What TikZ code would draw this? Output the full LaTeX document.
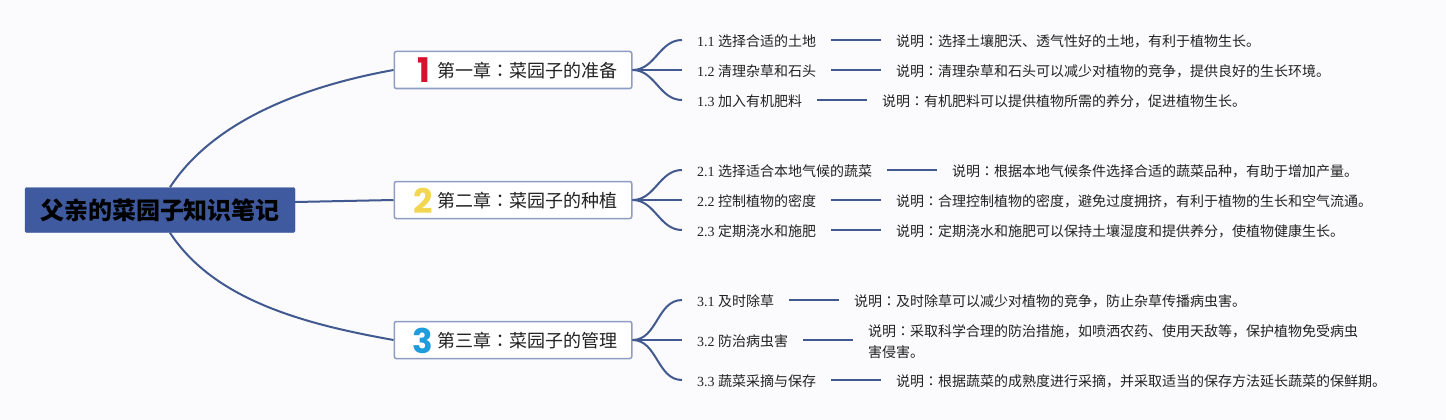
\documentclass[tikz,border=0pt]{standalone}
\usepackage{fontspec}
\setmainfont{Liberation Serif}
\newfontfamily\cjk{Noto Sans CJK SC}
\newfontfamily\cjkcolon{Noto Sans CJK JP}
\newfontfamily\digitfont{Poppins}
\newcommand{\cn}{{\cjkcolon ：}}
\usetikzlibrary{positioning}

\definecolor{pagebg}{HTML}{FBFBFD}
\definecolor{branch}{HTML}{41598F}
\definecolor{rootblue}{HTML}{3F5A9E}
\definecolor{boxline}{HTML}{8F9CC4}
\definecolor{inktext}{HTML}{222222}
\definecolor{onered}{HTML}{D5132F}
\definecolor{twoyellow}{HTML}{F3D650}
\definecolor{threeblue}{HTML}{1F9CDC}

\tikzset{
  rootbox/.style={draw=rootblue, fill=rootblue, rounded corners=1.5pt, minimum width=270pt, minimum height=45pt, inner sep=0pt, font=\cjk\bfseries\fontsize{24pt}{28pt}\selectfont, text=black},
  chapter/.style={draw=boxline, line width=1.5pt, fill=white, rounded corners=2pt, minimum height=37pt, text width=209.5pt, inner xsep=14pt, inner ysep=0pt, align=right, text height=18pt, text depth=2.4pt, font=\cjk\fontsize{18pt}{22pt}\selectfont, text=inktext},
  leaf/.style={anchor=west, inner xsep=15pt, inner ysep=0pt, text height=15pt, text depth=2.4pt, font=\fontsize{14pt}{20pt}\selectfont, text=inktext},
  note/.style={leaf, align=left, font=\cjk\fontsize{14pt}{21pt}\selectfont},
  digit/.style={inner sep=0pt, font=\digitfont\bfseries\fontsize{34pt}{34pt}\selectfont},
  link/.style={draw=branch, line width=2pt}
}

\begin{document}
\begin{tikzpicture}[x=1pt,y=-1pt]
\useasboundingbox (0,0) rectangle (1446,420);
\fill[pagebg] (0,0) rectangle (1446,420);

\node[rootbox] (root) at (160,210) {父亲的菜园子知识笔记};

\node[chapter] (c1) at (513,70) {第一章\cn 菜园子的准备};
\node[chapter] (c2) at (513,200) {第二章\cn 菜园子的种植};
\node[chapter] (c3) at (513,340) {第三章\cn 菜园子的管理};

\node[digit, text=onered] (n1) at (424,70) {1};
\node[digit, text=twoyellow] (n2) at (423,201) {2};
\node[digit, text=threeblue] (n3) at (423,341) {3};

\node[leaf] (l11) at (682,40) {1.1 {\cjk 选择合适的土地}};
\node[leaf] (l12) at (682,70) {1.2 {\cjk 清理杂草和石头}};
\node[leaf] (l13) at (682,100) {1.3 {\cjk 加入有机肥料}};
\node[leaf] (l21) at (682,170) {2.1 {\cjk 选择适合本地气候的蔬菜}};
\node[leaf] (l22) at (682,200) {2.2 {\cjk 控制植物的密度}};
\node[leaf] (l23) at (682,230) {2.3 {\cjk 定期浇水和施肥}};
\node[leaf] (l31) at (682,300) {3.1 {\cjk 及时除草}};
\node[leaf] (l32) at (682,340) {3.2 {\cjk 防治病虫害}};
\node[leaf] (l33) at (682,380) {3.3 {\cjk 蔬菜采摘与保存}};

\node[note] (d11) at (881,40) {说明\cn 选择土壤肥沃、透气性好的土地，有利于植物生长。};
\node[note] (d12) at (881,70) {说明\cn 清理杂草和石头可以减少对植物的竞争，提供良好的生长环境。};
\node[note] (d13) at (867,100) {说明\cn 有机肥料可以提供植物所需的养分，促进植物生长。};
\node[note] (d21) at (937,170) {说明\cn 根据本地气候条件选择合适的蔬菜品种，有助于增加产量。};
\node[note] (d22) at (881,200) {说明\cn 合理控制植物的密度，避免过度拥挤，有利于植物的生长和空气流通。};
\node[note] (d23) at (881,230) {说明\cn 定期浇水和施肥可以保持土壤湿度和提供养分，使植物健康生长。};
\node[note] (d31) at (839,300) {说明\cn 及时除草可以减少对植物的竞争，防止杂草传播病虫害。};
\node[note, text height=37pt] (d32) at (853,340) {说明\cn 采取科学合理的防治措施，如喷洒农药、使用天敌等，保护植物免受病虫\\害侵害。};
\node[note] (d33) at (881,380) {说明\cn 根据蔬菜的成熟度进行采摘，并采取适当的保存方法延长蔬菜的保鲜期。};

\draw[link] ([xshift=10pt]root.north) .. controls (215,118) and (310,85) .. (c1.west);
\draw[link] ([yshift=8pt]root.east) -- (c2.west);
\draw[link] ([xshift=10pt]root.south) .. controls (215,302) and (310,325) .. (c3.west);

\draw[link] (c1.east) to[out=0,in=180] (l11.west);
\draw[link] (c1.east) -- (l12.west);
\draw[link] (c1.east) to[out=0,in=180] (l13.west);
\draw[link] (c2.east) to[out=0,in=180] (l21.west);
\draw[link] (c2.east) -- (l22.west);
\draw[link] (c2.east) to[out=0,in=180] (l23.west);
\draw[link] (c3.east) to[out=0,in=180] (l31.west);
\draw[link] (c3.east) -- (l32.west);
\draw[link] (c3.east) to[out=0,in=180] (l33.west);

\draw[link] (l11.east) -- (d11.west);
\draw[link] (l12.east) -- (d12.west);
\draw[link] (l13.east) -- (d13.west);
\draw[link] (l21.east) -- (d21.west);
\draw[link] (l22.east) -- (d22.west);
\draw[link] (l23.east) -- (d23.west);
\draw[link] (l31.east) -- (d31.west);
\draw[link] (l32.east) -- (d32.west);
\draw[link] (l33.east) -- (d33.west);
\end{tikzpicture}
\end{document}
